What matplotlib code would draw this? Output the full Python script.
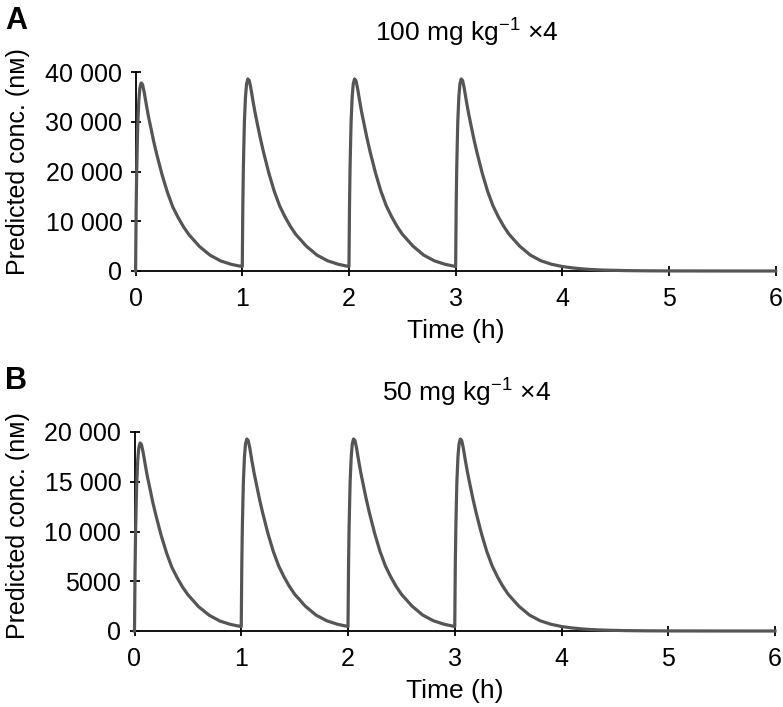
import matplotlib
matplotlib.use("Agg")
import matplotlib.pyplot as plt
import numpy as np

plt.rcParams['font.family'] = ['Liberation Sans', 'DejaVu Sans']
plt.rcParams['mathtext.fontset'] = 'custom'
plt.rcParams['mathtext.rm'] = 'Liberation Sans'
plt.rcParams['mathtext.it'] = 'Liberation Sans:italic'
plt.rcParams['mathtext.bf'] = 'Liberation Sans:bold'

# ---------------- data ----------------
dose_times = [0, 1, 2, 3]
# time after each dose (h)
cycle_offsets = [0, 0.005, 0.01, 0.015, 0.02, 0.03, 0.04, 0.052, 0.065, 0.08, 0.1,
                 0.12, 0.14, 0.17, 0.2, 0.25, 0.3, 0.35, 0.4, 0.45, 0.5, 0.6,
                 0.7, 0.8, 0.9, 1.0]
# panel A (100 mg/kg x4), nM
conc_a_first = [0, 12200, 19700, 24700, 29200, 34200, 36800, 37800, 37500, 36000, 33500,
                31100, 29100, 26000, 23300, 19200, 15700, 12800, 10700, 8850, 7300, 4900,
                3150, 2000, 1320, 880]
conc_a_repeat = [900, 13000, 20500, 25500, 30000, 35000, 37600, 38600, 38300, 36800, 34200,
                 31800, 29700, 26600, 23800, 19600, 16000, 13100, 10900, 9000, 7400, 5000,
                 3200, 2050, 1350, 900]
# panel B (50 mg/kg x4), nM
conc_b_first = [0, 6100, 9850, 12350, 14600, 17100, 18400, 18900, 18750, 18000, 16750,
                15550, 14550, 13000, 11650, 9600, 7850, 6400, 5350, 4420, 3650, 2450,
                1580, 1000, 660, 440]
conc_b_repeat = [450, 6500, 10250, 12750, 15000, 17500, 18800, 19300, 19150, 18400, 17100,
                 15900, 14850, 13300, 11900, 9800, 8000, 6550, 5450, 4500, 3700, 2500,
                 1600, 1030, 680, 450]
# wash-out after the last cycle
tail_times = [4.1, 4.2, 4.3, 4.4, 4.6, 4.8, 5.0, 5.5, 6.0]
tail_a = [610, 400, 265, 175, 77, 34, 15, 2, 0]
tail_b = [305, 200, 132, 88, 38, 17, 7, 1, 0]

yticks_a = [0, 10000, 20000, 30000, 40000]
yticklabels_a = ['0', '10 000', '20 000', '30 000', '40 000']
yticks_b = [0, 5000, 10000, 15000, 20000]
yticklabels_b = ['0', '5000', '10 000', '15 000', '20 000']
xticks = [0, 1, 2, 3, 4, 5, 6]
titles = ['100 mg kg$^{-1}$ \u00d74', '50 mg kg$^{-1}$ \u00d74']
panel_letters = ['A', 'B']
ylabel = 'Predicted conc. (n\u1d0d)'
xlabel = 'Time (h)'


def build_series(first, repeat, tail_t, tail_c):
    t, c = [], []
    for i, d in enumerate(dose_times):
        prof = first if i == 0 else repeat
        t.extend([d + o for o in cycle_offsets])
        c.extend(prof)
    t.extend(tail_t)
    c.extend(tail_c)
    return t, c


W, H = 783, 707
fig = plt.figure(figsize=(W / 100, H / 100), dpi=100)

panels = [
    dict(rect=(135.6, 72, 775.7, 271), conc=(conc_a_first, conc_a_repeat, tail_a),
         yt=yticks_a, ytl=yticklabels_a, ymax=40000, title=titles[0], letter=panel_letters[0],
         ylab_y=0.55),
    dict(rect=(134.5, 432, 775.0, 631), conc=(conc_b_first, conc_b_repeat, tail_b),
         yt=yticks_b, ytl=yticklabels_b, ymax=20000, title=titles[1], letter=panel_letters[1],
         ylab_y=0.53),
]

fs_tick = 18
fs_lab = 19
for p in panels:
    x0, y0, x1, y1 = p['rect']
    ax = fig.add_axes([x0 / W, 1 - y1 / H, (x1 - x0) / W, (y1 - y0) / H])
    first, repeat, tail = p['conc']
    t, c = build_series(first, repeat, tail_times, tail)
    ax.plot(t, c, color='#555555', lw=2.3, solid_joinstyle='round', clip_on=False, zorder=3)
    ax.set_xlim(0, 6)
    ax.set_ylim(0, p['ymax'])
    ax.set_xticks(xticks)
    ax.set_xticklabels([str(v) for v in xticks], fontsize=fs_tick)
    ax.set_yticks(p['yt'])
    ax.set_yticklabels(p['ytl'], fontsize=fs_tick)
    for s in ['top', 'right']:
        ax.spines[s].set_visible(False)
    for s in ['left', 'bottom']:
        ax.spines[s].set_linewidth(1.3)
    ax.tick_params(direction='inout', length=7, width=1.3)
    ax.tick_params(axis='y', pad=6)
    ax.tick_params(axis='x', pad=8)
    ax.set_xlabel(xlabel, fontsize=fs_lab)
    ax.set_ylabel(ylabel, fontsize=18)
    ax.yaxis.set_label_coords((18 - x0) / (x1 - x0), p['ylab_y'])
    ax.yaxis.label.set_va('center')
    ax.xaxis.set_label_coords(0.5, -60 / (y1 - y0))
    ax.xaxis.label.set_va('center')
    # title and panel letter
    fig.text(467 / W, 1 - (y0 - 39) / H, p['title'], fontsize=fs_lab, ha='center', va='center')
    fig.text(5 / W, 1 - (y0 - 51) / H, p['letter'], fontsize=22, fontweight='bold',
             ha='left', va='center')

fig.savefig('out.png', dpi=100)
